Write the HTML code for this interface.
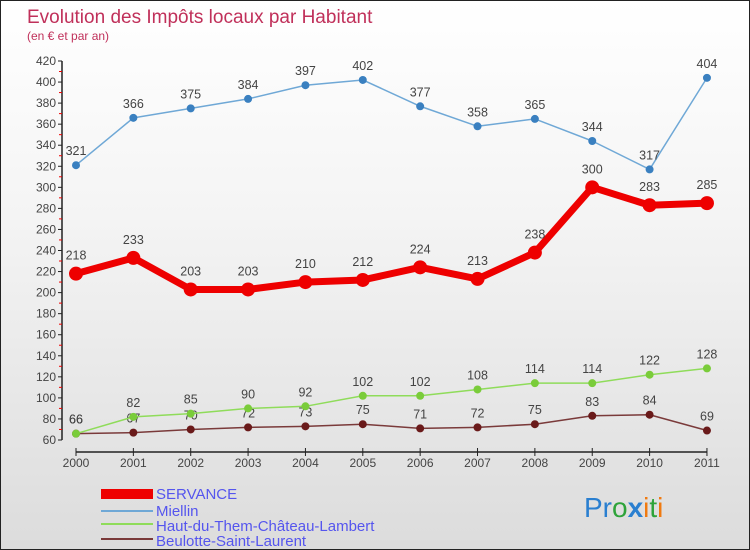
<!DOCTYPE html>
<html><head><meta charset="utf-8"><style>
body{margin:0}
#c{position:relative;width:748px;height:548px;border:1px solid #222;background:linear-gradient(#ffffff,#f4f4f4 40%,#dcdcdc);overflow:hidden;font-family:"Liberation Sans",sans-serif}
</style></head><body>
<div id="c">
<svg width="748" height="548" xmlns="http://www.w3.org/2000/svg" id="svg">
<text x="26" y="22" font-size="19" fill="#c0305a">Evolution des Impôts locaux par Habitant</text>
<text x="26" y="39" font-size="12" fill="#c0305a">(en € et par an)</text>
<g id="axes"></g>
<g id="series"></g>
<g id="legend">
<rect x="100" y="488" width="52" height="10" fill="#ee0000"/>
<text x="155" y="498" font-size="15" fill="#5555ee">SERVANCE</text>
<line x1="100" y1="510" x2="152" y2="510" stroke="#6fa8d6" stroke-width="2"/>
<text x="155" y="515" font-size="15" fill="#5555ee">Miellin</text>
<line x1="100" y1="523" x2="152" y2="523" stroke="#8fdc5a" stroke-width="2"/>
<text x="155" y="530" font-size="15" fill="#5555ee">Haut-du-Them-Château-Lambert</text>
<line x1="100" y1="538" x2="152" y2="538" stroke="#7a3a3a" stroke-width="2"/>
<text x="155" y="545" font-size="15" fill="#5555ee">Beulotte-Saint-Laurent</text>
</g>
<g font-size="28">
<text x="583" y="516"><tspan fill="#2a7fd0">Pr</tspan><tspan fill="#2ea33a">o</tspan><tspan fill="#2a7fd0" font-weight="bold">x</tspan><tspan fill="#f07a10">i</tspan><tspan fill="#2ea33a">t</tspan><tspan fill="#f07a10">i</tspan></text>
</g>
</svg>
</div>
<script>
const years=[2000,2001,2002,2003,2004,2005,2006,2007,2008,2009,2010,2011];
const yTicks=[60,80,100,120,140,160,180,200,220,240,260,280,300,320,340,360,380,400,420];
const servance=[218,233,203,203,210,212,224,213,238,300,283,285];
const miellin=[321,366,375,384,397,402,377,358,365,344,317,404];
const haut=[66,82,85,90,92,102,102,108,114,114,122,128];
const beulotte=[66,67,70,72,73,75,71,72,75,83,84,69];
const NS="http://www.w3.org/2000/svg";
const xS=i=>75+i*57.36;
const yS=v=>439-(v-60)*(379/360);
function mk(tag,attrs,parent,txt){const e=document.createElementNS(NS,tag);for(const k in attrs)e.setAttribute(k,attrs[k]);if(txt!==undefined)e.textContent=txt;parent.appendChild(e);return e;}
const ax=document.getElementById('axes');
let a=mk('line',{x1:61,y1:yS(420),x2:61,y2:yS(60),stroke:'#222','stroke-width':1.5},ax);


yTicks.forEach((t,k)=>{
 const y=yS(t);
 let l=mk('line',{x1:57,y1:y,x2:61,y2:y,stroke:'#222'},ax);
 
 
 if(k>0){
  let m=mk('line',{x1:58,y1:y+10.5,x2:61,y2:y+10.5,stroke:'#e00'},ax);
  
  
 }
 let tx=mk('text',{x:55,y:y+4,'font-size':12,'text-anchor':'end',fill:'#444'},ax,t);
 
 
});
let xa=mk('line',{x1:xS(0),y1:451,x2:xS(11),y2:451,stroke:'#222','stroke-width':1.5},ax);


years.forEach((yr,i)=>{
 let l=mk('line',{x1:xS(i),y1:447,x2:xS(i),y2:455,stroke:'#222'},ax);
 
 
 let t=mk('text',{x:xS(i),y:466,'font-size':12,'text-anchor':'middle',fill:'#444'},ax,yr);
 
 
});
const sg=document.getElementById('series');
function series(vals,color,width,r,dot,name,off){
 const g=mk('g',{},sg);
 
 
 const p=mk('polyline',{points:vals.map((v,i)=>xS(i)+','+yS(v)).join(' '),fill:'none',stroke:color,'stroke-width':width,'stroke-linejoin':'round'},g);
 
 
 vals.forEach((v,i)=>{
  const c=mk('circle',{cx:xS(i),cy:yS(v),r:r,fill:dot},g);
  
  
  const t=mk('text',{x:xS(i),y:yS(v)-off,'font-size':12.5,'text-anchor':'middle',fill:'#444'},g,v);
  
  
 });
}
series(beulotte,'#7a3a3a',1.5,4,'#6a1a1a','beulotte',10);
series(haut,'#8fdc5a',1.5,4,'#7acc3a','haut-du-them',10);
series(miellin,'#6fa8d6',1.5,4,'#3a80c0','miellin',10);
series(servance,'#ee0000',7,7,'#ee0000','servance',14);
</script>
</body></html>
